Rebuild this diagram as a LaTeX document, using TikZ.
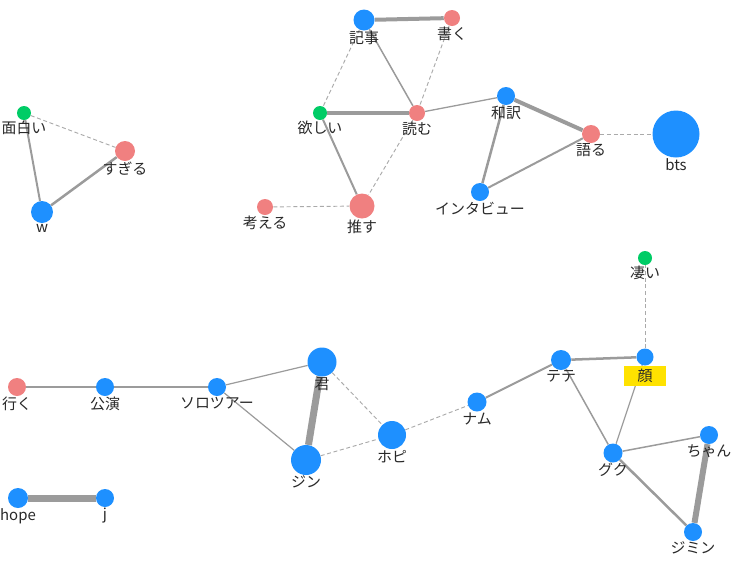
\documentclass[tikz,border=0pt]{standalone}
\usepackage{fontspec}
\setmainfont{Noto Sans CJK JP}
\usetikzlibrary{backgrounds}
\definecolor{nblue}{RGB}{30,144,255}
\definecolor{nred}{RGB}{240,128,128}
\definecolor{ngreen}{RGB}{0,204,102}
\definecolor{edgegray}{RGB}{155,155,155}
\definecolor{labelgray}{RGB}{40,40,40}
\definecolor{hlyellow}{RGB}{255,226,0}
\begin{document}
\begin{tikzpicture}[x=0.75pt,y=-0.75pt,
	every node/.style={inner sep=0pt},
	lbl/.style={font=\fontsize{11.2}{13}\selectfont,text=labelgray,inner sep=0.3pt},
	bnode/.style={circle,fill=nblue,minimum size={#1*0.75pt}},
	rnode/.style={circle,fill=nred,minimum size={#1*0.75pt}},
	gnode/.style={circle,fill=ngreen,minimum size={#1*0.75pt}},
	link/.style={draw=edgegray,line width={#1*0.75pt}},
	dlink/.style={draw=edgegray!85,line width=0.7pt,dash pattern=on 3pt off 2pt}]
	\useasboundingbox (0,0) rectangle (746,572);
	% left triangle
	\node[gnode=14,label={[lbl]below:面白い}] (omoshiroi) at (24,113) {};
	\node[rnode=20,label={[lbl]below:すぎる}] (sugiru) at (125,151) {};
	\node[bnode=22,label={[lbl]below:w}] (w) at (42,212) {};
	\begin{scope}[on background layer]
		\draw[dlink] (omoshiroi) -- (sugiru);
		\draw[link=2] (omoshiroi) -- (w);
		\draw[link=2.5] (w) -- (sugiru);
	\end{scope}
	% top cluster
	\node[bnode=21,label={[lbl]below:記事}] (kiji) at (364,20) {};
	\node[rnode=16,label={[lbl]below:書く}] (kaku) at (452,18) {};
	\node[gnode=14,label={[lbl]below:欲しい}] (hoshii) at (320,113) {};
	\node[rnode=16,label={[lbl]below:読む}] (yomu) at (417,113) {};
	\node[rnode=25,label={[lbl]below:推す}] (osu) at (362,206) {};
	\node[rnode=16,label={[lbl]below:考える}] (kangaeru) at (265,207) {};
	\node[bnode=18,label={[lbl]below:和訳}] (wayaku) at (506,96) {};
	\node[rnode=18,label={[lbl]below:語る}] (kataru) at (591,134) {};
	\node[bnode=18,label={[lbl]below:インタビュー}] (interview) at (480,192) {};
	\node[bnode=47,label={[lbl]below:bts}] (bts) at (676,134) {};
	\begin{scope}[on background layer]
		\draw[link=4] (kiji) -- (kaku);
		\draw[dlink] (kiji) -- (hoshii);
		\draw[link=1.5] (kiji) -- (yomu);
		\draw[dlink] (kaku) -- (yomu);
		\draw[link=4] (hoshii) -- (yomu);
		\draw[link=2] (hoshii) -- (osu);
		\draw[dlink] (yomu) -- (osu);
		\draw[dlink] (kangaeru) -- (osu);
		\draw[link=1.3] (yomu) -- (wayaku);
		\draw[link=4] (wayaku) -- (kataru);
		\draw[link=2.5] (wayaku) -- (interview);
		\draw[link=2] (interview) -- (kataru);
		\draw[dlink] (kataru) -- (bts);
	\end{scope}
	% bottom chain
	\node[rnode=18,label={[lbl]below:行く}] (iku) at (17,387) {};
	\node[bnode=18,label={[lbl]below:公演}] (koen) at (105,387) {};
	\node[bnode=18,label={[lbl]below:ソロツアー}] (solo) at (217,387) {};
	\node[bnode=29,label={[lbl]below:君}] (kimi) at (322,362) {};
	\node[bnode=30,label={[lbl]below:ジン}] (jin) at (306,460) {};
	\node[bnode=28,label={[lbl]below:ホピ}] (hobi) at (392,435) {};
	\node[bnode=19,label={[lbl]below:ナム}] (namu) at (477,402) {};
	\node[bnode=20,label={[lbl]below:テテ}] (tete) at (561,360) {};
	\node[bnode=17,label={[lbl,fill=hlyellow,minimum width=32pt,minimum height=15pt]below:顔}] (kao) at (645,357) {};
	\node[gnode=14,label={[lbl]below:凄い}] (sugoi) at (645,258) {};
	\node[bnode=19,label={[lbl]below:グク}] (guku) at (613,453) {};
	\node[bnode=18,label={[lbl]below:ちゃん}] (chan) at (709,435) {};
	\node[bnode=18,label={[lbl]below:ジミン}] (jimin) at (693,532) {};
	\begin{scope}[on background layer]
		\draw[link=1.3] (iku) -- (koen);
		\draw[link=2] (koen) -- (solo);
		\draw[link=1.2] (solo) -- (kimi);
		\draw[link=1.2] (solo) -- (jin);
		\draw[link=7] (kimi) -- (jin);
		\draw[dlink] (kimi) -- (hobi);
		\draw[dlink] (jin) -- (hobi);
		\draw[dlink] (hobi) -- (namu);
		\draw[link=2] (namu) -- (tete);
		\draw[link=2.5] (tete) -- (kao);
		\draw[dlink] (kao) -- (sugoi);
		\draw[link=1.5] (tete) -- (guku);
		\draw[link=1.2] (kao) -- (guku);
		\draw[link=1.5] (guku) -- (chan);
		\draw[link=2.5] (guku) -- (jimin);
		\draw[link=6] (chan) -- (jimin);
	\end{scope}
	% pair
	\node[bnode=20,label={[lbl]below:hope}] (hope) at (18,498) {};
	\node[bnode=18,label={[lbl]below:j}] (j) at (105,498) {};
	\begin{scope}[on background layer]
		\draw[link=7] (hope) -- (j);
	\end{scope}
\end{tikzpicture}
\end{document}
